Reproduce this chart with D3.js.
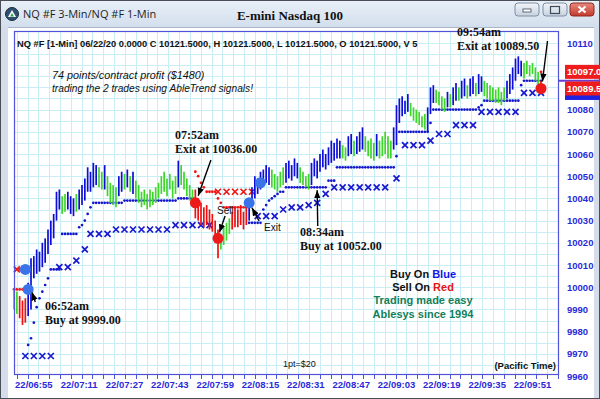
<!DOCTYPE html>
<html>
<head>
<meta charset="utf-8">
<script src="https://cdn.jsdelivr.net/npm/d3@7"></script>
<style>
  body { margin: 0; background: #fff; }
  svg { display: block; }
</style>
</head>
<body>
<div id="chart"></div>
<script>
// 1-min bars starting 06:48, one entry per bar
var barHigh = [
  9999, 9998, 9996, 9994, 9995, 10002, 10013, 10014, 10017, 10016,
  10020, 10022, 10026, 10030, 10033, 10043, 10044, 10041, 10042, 10043,
  10041, 10040, 10042, 10044, 10046, 10049, 10054, 10052, 10056, 10055,
  10054, 10052, 10055, 10050, 10047, 10046, 10045, 10050, 10052, 10051,
  10053, 10050, 10052, 10048, 10046, 10043, 10044, 10042, 10044, 10043,
  10045, 10047, 10050, 10052, 10049, 10051, 10048, 10050, 10057, 10055,
  10052, 10049, 10046, 10044, 10044, 10040, 10038, 10036, 10037, 10035,
  10033, 10030, 10026, 10024, 10027, 10029, 10031, 10034, 10036, 10035,
  10037, 10034, 10036, 10039, 10045, 10050, 10049, 10052, 10053, 10055,
  10054, 10053, 10051, 10050, 10052, 10054, 10056, 10057, 10055, 10058,
  10056, 10054, 10052, 10050, 10051, 10056, 10058, 10057, 10060, 10062,
  10060, 10063, 10066, 10065, 10067, 10066, 10064, 10063, 10068, 10069,
  10066, 10068, 10070, 10072, 10068, 10066, 10067, 10065, 10069, 10066,
  10068, 10070, 10068, 10066, 10072, 10082, 10085, 10086, 10084, 10087,
  10083, 10081, 10080, 10079, 10077, 10078, 10081, 10090, 10091, 10089,
  10088, 10086, 10085, 10088, 10087, 10090, 10092, 10090, 10093, 10094,
  10091, 10094, 10095, 10092, 10096, 10095, 10093, 10092, 10091, 10090,
  10089, 10090, 10088, 10090, 10093, 10096, 10099, 10103, 10104, 10102,
  10101, 10102, 10100, 10101, 10099, 10097, 10093
];
var barLow = [
  9990, 9988, 9986, 9983, 9984, 9987, 9990, 10004, 10006, 10007,
  10009, 10011, 10015, 10019, 10022, 10030, 10035, 10033, 10034, 10035,
  10033, 10032, 10034, 10035, 10037, 10039, 10043, 10043, 10045, 10046,
  10045, 10044, 10044, 10041, 10038, 10037, 10036, 10041, 10043, 10044,
  10045, 10043, 10042, 10040, 10038, 10036, 10037, 10035, 10036, 10037,
  10038, 10040, 10042, 10043, 10041, 10044, 10040, 10042, 10045, 10046,
  10044, 10041, 10039, 10037, 10031, 10030, 10028, 10027, 10028, 10026,
  10025, 10021, 10013, 10017, 10019, 10021, 10024, 10026, 10027, 10027,
  10028, 10026, 10028, 10030, 10036, 10040, 10042, 10044, 10046, 10047,
  10046, 10045, 10044, 10043, 10045, 10046, 10047, 10049, 10048, 10050,
  10049, 10047, 10046, 10045, 10044, 10046, 10050, 10049, 10052, 10054,
  10053, 10055, 10056, 10057, 10058, 10058, 10058, 10057, 10059, 10060,
  10059, 10060, 10061, 10062, 10061, 10059, 10058, 10057, 10059, 10058,
  10059, 10060, 10058, 10058, 10062, 10064, 10074, 10077, 10078, 10079,
  10077, 10075, 10074, 10073, 10072, 10071, 10070, 10078, 10083, 10083,
  10082, 10080, 10079, 10081, 10081, 10082, 10084, 10084, 10085, 10086,
  10085, 10086, 10087, 10086, 10087, 10088, 10086, 10085, 10084, 10084,
  10083, 10083, 10082, 10084, 10085, 10087, 10089, 10093, 10096, 10095,
  10094, 10096, 10095, 10096, 10093, 10091, 10088
];
// B = up trend (blue), G = neutral (green), R = down trend (red)
var barTrend = (
  "GGRRR" + "BBBBBBBBBBBB" + "GG" + "BBB" + "G" + "BBBBBBB" + "GG" + "B" +
  "GGGG" + "BB" + "G" + "B" + "G" + "B" + "GGGGGGGGGGGGGGG" + "B" + "GGGGG" +
  "RRRRRRRRR" + "GGGG" + "RRRRRR" + "BBBBBBBB" + "GGGGG" + "BBBBB" + "GGGG" +
  "BBBBBBBBBBB" + "GG" + "BB" + "G" + "BBB" + "GGGG" + "B" + "GGGGG" +
  "BBBBBB" + "GGGGGG" + "BBB" + "GGGG" + "B" + "G" + "BB" + "G" + "BB" + "G" +
  "BB" + "G" + "BB" + "GGGGGGGG" + "BBBBBB" + "GGGGGG" + "R"
).split("");

// stop levels: [first bar, last bar, price]
var blueDotRuns = [
  [5, 5, 9974], [6, 6, 9977], [7, 7, 9984], [8, 8, 9991], [9, 9, 9995],
  [10, 10, 9998], [11, 11, 10001], [12, 12, 10004], [13, 16, 10008],
  [17, 22, 10024], [23, 23, 10027], [24, 24, 10028], [25, 25, 10030],
  [26, 26, 10033], [27, 27, 10036], [28, 38, 10038], [39, 57, 10039],
  [58, 63, 10040], [83, 87, 10029], [88, 88, 10035], [89, 89, 10037],
  [90, 90, 10039], [91, 91, 10040], [92, 92, 10041], [93, 93, 10042],
  [94, 95, 10043], [96, 110, 10045], [111, 113, 10048], [114, 134, 10054],
  [135, 135, 10059], [136, 146, 10070], [147, 147, 10074], [148, 163, 10080],
  [164, 164, 10081], [165, 165, 10082], [166, 178, 10084], [179, 179, 10091],
  [180, 186, 10093]
];
var redDotRuns = [
  [0, 4, 9999], [2, 4, 10008], [64, 64, 10052], [65, 65, 10050], [66, 66, 10047],
  [67, 67, 10045], [68, 71, 10043], [72, 72, 10040], [73, 73, 10038],
  [74, 82, 10036], [186, 186, 10097]
];
// X markers: [bar, price]
var blueX = [
  [4, 9969], [7, 9969], [10, 9969], [13, 9969], [16, 10009], [19, 10009],
  [22, 10012], [25, 10017], [27, 10024], [30, 10024], [33, 10024],
  [36, 10026], [39, 10026], [42, 10026], [45, 10026], [48, 10026], [51, 10026],
  [54, 10026], [57, 10028], [60, 10028], [63, 10028], [66, 10028], [69, 10028],
  [86, 10032], [89, 10032], [92, 10032], [95, 10035], [98, 10036], [101, 10036],
  [104, 10037], [107, 10038], [110, 10042], [113, 10045], [116, 10045],
  [119, 10045], [122, 10045], [125, 10045], [128, 10045], [131, 10045],
  [135, 10049], [138, 10064], [141, 10064], [144, 10064], [147, 10066],
  [150, 10069], [153, 10069], [156, 10073], [159, 10073], [162, 10073],
  [165, 10079], [168, 10079], [171, 10079], [174, 10079], [177, 10079],
  [180, 10087.5], [183, 10087.5], [186, 10087.5]
];
var redX = [[1, 10008], [72, 10043], [75, 10043], [78, 10043], [81, 10043], [84, 10043]];

// signal circles
var signalBar = [4, 5, 64, 72, 83, 87, 186];
var signalPrice = [10008, 9999, 10038, 10022, 10038, 10047, 10089.5];
var signalSide = ["buy", "buy", "sell", "sell", "buy", "buy", "sell"];

// 10090 and 10100 sit under the last-value boxes
var priceTicks = [9960, 9970, 9980, 9990, 10000, 10010, 10020, 10030, 10040,
                  10050, 10060, 10070, 10080, 10110];
var timeLabels = ["06:55", "07:11", "07:27", "07:43", "07:59", "08:15",
                  "08:31", "08:47", "09:03", "09:19", "09:35", "09:51"];

// last value boxes on the price axis
var lastBoxes = [
  { v: 10087.5, fill: "#2020e0", text: "" },
  { v: 10097, fill: "#ee1c1c", text: "10097.0" },
  { v: 10089.5, fill: "#ee1c1c", text: "10089.5" }
];

(function() {
  var width = 600, height = 399;
  var plot = { left: 14, right: 558, top: 31, bottom: 374 };
  var startMin = 6 * 60 + 48;

  var svg = d3.select("#chart").append("svg")
    .attr("width", width)
    .attr("height", height)
    .style("font-family", "'Liberation Sans', Arial, sans-serif");

  var x = d3.scaleLinear().domain([0, 192]).range([plot.left, plot.right]);
  var y = d3.scaleLinear().domain([9960, 10110]).range([376, 43]);

  var colorOf = { B: "#0d0dd8", G: "#3ed62a", R: "#ee1111" };

  var defs = svg.append("defs");
  var grad = defs.append("linearGradient").attr("id", "titlebar")
    .attr("x1", 0).attr("y1", 0).attr("x2", 0).attr("y2", 1);
  grad.append("stop").attr("offset", 0).attr("stop-color", "#e9f0f8");
  grad.append("stop").attr("offset", 1).attr("stop-color", "#d3dfed");
  var btn = defs.append("linearGradient").attr("id", "btn")
    .attr("x1", 0).attr("y1", 0).attr("x2", 0).attr("y2", 1);
  btn.append("stop").attr("offset", 0).attr("stop-color", "#f2f5f9");
  btn.append("stop").attr("offset", 1).attr("stop-color", "#c7d2df");
  var btnRed = defs.append("linearGradient").attr("id", "btnred")
    .attr("x1", 0).attr("y1", 0).attr("x2", 0).attr("y2", 1);
  btnRed.append("stop").attr("offset", 0).attr("stop-color", "#e88a7f");
  btnRed.append("stop").attr("offset", 1).attr("stop-color", "#c4382c");
  defs.append("marker").attr("id", "arrow")
    .attr("viewBox", "0 0 10 8").attr("refX", 10).attr("refY", 4)
    .attr("markerWidth", 8).attr("markerHeight", 7)
    .attr("markerUnits", "userSpaceOnUse").attr("orient", "auto")
    .append("path").attr("d", "M0,0L10,4L0,8z").attr("fill", "#000");

  // window chrome
  svg.append("rect").attr("width", width).attr("height", height).attr("fill", "#ffffff");
  svg.append("rect").attr("x", 0).attr("y", 0).attr("width", width).attr("height", 27)
    .attr("fill", "url(#titlebar)");
  svg.append("rect").attr("x", 0).attr("y", 27).attr("width", 8).attr("height", height - 27)
    .attr("fill", "#d4dde9");
  svg.append("rect").attr("x", 594).attr("y", 27).attr("width", 6).attr("height", height - 27)
    .attr("fill", "#d4dde9");
  svg.append("rect").attr("x", 0).attr("y", 0).attr("width", width).attr("height", height)
    .attr("fill", "none").attr("stroke", "#4a4f57").attr("stroke-width", 2);
  svg.append("line").attr("x1", 8).attr("x2", 594).attr("y1", 27.5).attr("y2", 27.5)
    .attr("stroke", "#aab6c6");

  var icon = svg.append("g").attr("transform", "translate(12,14)");
  icon.append("circle").attr("r", 6.5).attr("fill", "#2f4f6e").attr("stroke", "#1b2c3d");
  icon.append("path").attr("d", "M0,-4L4,3L-4,3z").attr("fill", "#ffffff");
  icon.append("path").attr("d", "M0,-1L2,2.5L-2,2.5z").attr("fill", "#2ea44f");

  svg.append("text").attr("x", 23).attr("y", 18)
    .style("font-family", "'Open Sans', 'Noto Sans', sans-serif")
    .style("font-size", "11px").attr("fill", "#1e1e1e")
    .text("NQ #F 3-Min/NQ #F 1-Min");
  svg.append("text").attr("x", 290).attr("y", 20).attr("text-anchor", "middle")
    .style("font-family", "'Liberation Serif', 'Times New Roman', serif")
    .style("font-size", "13px").style("font-weight", "bold").attr("fill", "#111")
    .text("E-mini Nasdaq 100");

  [[515, "url(#btn)"], [543, "url(#btn)"], [570, "url(#btnred)"]].forEach(function(b, k) {
    svg.append("rect").attr("x", b[0]).attr("y", 3).attr("width", 24).attr("height", 13)
      .attr("rx", 3).attr("fill", b[1]).attr("stroke", k == 2 ? "#8d2a22" : "#7d8ea3");
  });
  svg.append("rect").attr("x", 523).attr("y", 9).attr("width", 8).attr("height", 3)
    .attr("fill", "#fff").attr("stroke", "#3c4a5c").attr("stroke-width", 0.8);
  svg.append("rect").attr("x", 550.5).attr("y", 6.5).attr("width", 9).attr("height", 7)
    .attr("fill", "none").attr("stroke", "#3c4a5c").attr("stroke-width", 1.2);
  svg.append("path").attr("d", "M578.5,6.5L585.5,12.5M585.5,6.5L578.5,12.5")
    .attr("stroke", "#fff").attr("stroke-width", 2.2);

  // plot background and grid
  svg.append("rect").attr("x", plot.left).attr("y", plot.top)
    .attr("width", plot.right - plot.left).attr("height", plot.bottom - plot.top)
    .attr("fill", "#ffffff");

  var grid = svg.append("g").attr("stroke", "#c9eef6").attr("stroke-width", 1);
  var gridTimes = d3.range(0.95, 192, 3.82);
  grid.selectAll(".vg").data(gridTimes).enter().append("line")
    .attr("x1", function(d) { return Math.round(x(d)) + 0.5; })
    .attr("x2", function(d) { return Math.round(x(d)) + 0.5; })
    .attr("y1", plot.top).attr("y2", plot.bottom);
  var gridPrices = d3.range(9965, 10115, 5);
  grid.selectAll(".hg").data(gridPrices).enter().append("line")
    .attr("x1", plot.left).attr("x2", plot.right)
    .attr("y1", function(d) { return Math.round(y(d)) + 0.5; })
    .attr("y2", function(d) { return Math.round(y(d)) + 0.5; });

  svg.append("text").attr("x", 17).attr("y", 47)
    .style("font-size", "9.3px").style("font-weight", "bold").attr("fill", "#111")
    .text("NQ #F [1-Min] 06/22/20  0.0000 C 10121.5000, H 10121.5000, L 10121.5000, O 10121.5000, V 5");

  // stop markers
  function expandRuns(runs) {
    var pts = [];
    runs.forEach(function(r) {
      d3.range(r[0], r[1] + 1).forEach(function(i) { pts.push([i, r[2]]); });
    });
    return pts;
  }

  svg.append("g").selectAll("circle").data(expandRuns(blueDotRuns)).enter().append("circle")
    .attr("cx", function(d) { return x(d[0]); })
    .attr("cy", function(d) { return y(d[1]); })
    .attr("r", 1.35).attr("fill", "#1515cc");
  svg.append("g").selectAll("circle").data(expandRuns(redDotRuns)).enter().append("circle")
    .attr("cx", function(d) { return x(d[0]); })
    .attr("cy", function(d) { return y(d[1]); })
    .attr("r", 1.4).attr("fill", "#ee1515");

  function drawX(data, color) {
    svg.append("g").selectAll("path").data(data).enter().append("path")
      .attr("d", function(d) {
        var cx = x(d[0]), cy = y(d[1]), s = 3;
        return "M" + (cx - s) + "," + (cy - s) + "L" + (cx + s) + "," + (cy + s) +
               "M" + (cx + s) + "," + (cy - s) + "L" + (cx - s) + "," + (cy + s);
      })
      .attr("stroke", color).attr("stroke-width", 1.7).attr("fill", "none");
  }
  drawX(blueX, "#1a1ad0");
  drawX(redX, "#ee1515");

  // price bars
  svg.append("g").selectAll("line").data(barHigh).enter().append("line")
    .attr("x1", function(d, i) { return x(i); })
    .attr("x2", function(d, i) { return x(i); })
    .attr("y1", function(d) { return y(d); })
    .attr("y2", function(d, i) { return y(barLow[i]); })
    .attr("stroke", function(d, i) { return colorOf[barTrend[i]]; })
    .attr("stroke-width", 1.7);

  // signal circles
  svg.append("g").selectAll("circle").data(signalBar).enter().append("circle")
    .attr("cx", function(d) { return x(d); })
    .attr("cy", function(d, i) { return y(signalPrice[i]); })
    .attr("r", 5.5)
    .attr("fill", function(d, i) { return signalSide[i] == "buy" ? "#3a74e8" : "#ee1a1a"; });

  // plot border
  svg.append("rect").attr("x", plot.left + 0.5).attr("y", plot.top + 0.5)
    .attr("width", plot.right - plot.left).attr("height", plot.bottom - plot.top)
    .attr("fill", "none").attr("stroke", "#5252d8").attr("stroke-width", 1.2);

  // price axis
  svg.append("g").selectAll("text").data(priceTicks).enter().append("text")
    .attr("x", 567).attr("y", function(d) { return y(d) + 3.5; })
    .style("font-size", "9.5px").style("font-weight", "bold").attr("fill", "#2a2ad8")
    .text(function(d) { return d; });

  var boxes = svg.append("g");
  boxes.append("line").attr("x1", 559).attr("x2", 600)
    .attr("y1", y(10093)).attr("y2", y(10093)).attr("stroke", "#6a3ccf").attr("stroke-width", 2);
  lastBoxes.forEach(function(b) {
    boxes.append("rect").attr("x", 565).attr("y", y(b.v) - 7).attr("width", 35).attr("height", 14)
      .attr("fill", b.fill);
    if (b.text) {
      boxes.append("text").attr("x", 567).attr("y", y(b.v) + 3.5)
        .style("font-size", "9.5px").style("font-weight", "bold").attr("fill", "#ffffff")
        .text(b.text);
    }
  });

  // time axis
  svg.append("line").attr("x1", plot.left).attr("x2", plot.right)
    .attr("y1", plot.bottom + 0.5).attr("y2", plot.bottom + 0.5)
    .attr("stroke", "#5252d8").attr("stroke-width", 1.2);
  svg.append("g").selectAll("line").data(gridTimes).enter().append("line")
    .attr("x1", function(d) { return Math.round(x(d)) + 0.5; })
    .attr("x2", function(d) { return Math.round(x(d)) + 0.5; })
    .attr("y1", plot.bottom).attr("y2", plot.bottom + 5)
    .attr("stroke", "#5252d8");
  svg.append("g").selectAll("text").data(timeLabels).enter().append("text")
    .attr("x", function(d) {
      var p = d.split(":");
      return x(+p[0] * 60 + +p[1] - startMin);
    })
    .attr("y", 388).attr("text-anchor", "middle")
    .style("font-size", "9.5px").style("font-weight", "bold").attr("fill", "#2a2ad8")
    .text(function(d) { return "22/" + d; });

  // notes
  svg.append("text").attr("x", 52).attr("y", 79)
    .style("font-size", "10.8px").style("font-style", "italic").attr("fill", "#111")
    .text("74 points/contract profit ($1480)");
  svg.append("text").attr("x", 52).attr("y", 92)
    .style("font-size", "10.2px").style("font-style", "italic").attr("fill", "#111")
    .text("trading the 2 trades using AbleTrend signals!");

  function serifNote(tx, ty, lines) {
    lines.forEach(function(t, k) {
      svg.append("text").attr("x", tx).attr("y", ty + k * 14)
        .style("font-family", "'Liberation Serif', 'Times New Roman', serif")
        .style("font-size", "12px").style("font-weight", "bold").attr("fill", "#111")
        .text(t);
    });
  }
  serifNote(45, 310, ["06:52am", "Buy at 9999.00"]);
  serifNote(175, 139, ["07:52am", "Exit at 10036.00"]);
  serifNote(300, 236, ["08:34am", "Buy at 10052.00"]);
  serifNote(457, 36, ["09:54am", "Exit at 10089.50"]);

  svg.append("text").attr("x", 217).attr("y", 214).style("font-size", "10px").attr("fill", "#111").text("Sell");
  svg.append("text").attr("x", 264).attr("y", 231).style("font-size", "10px").attr("fill", "#111").text("Exit");

  var arrows = [
    [x(7.5), 302, x(5) + 4, y(9999) + 3],
    [x(69.5), 160, x(65), y(10038) - 7],
    [x(74.5), 216, x(72.5), y(10022) - 6],
    [x(86.5), 221, x(84), y(10038) + 5],
    [x(107.2), 226, x(107), y(10045) + 3],
    [x(188.3), 41, x(186.5), y(10089.5) - 7]
  ];
  svg.append("g").selectAll("line").data(arrows).enter().append("line")
    .attr("x1", function(d) { return d[0]; }).attr("y1", function(d) { return d[1]; })
    .attr("x2", function(d) { return d[2]; }).attr("y2", function(d) { return d[3]; })
    .attr("stroke", "#000").attr("stroke-width", 1.4).attr("marker-end", "url(#arrow)");

  var legend = svg.append("g").attr("text-anchor", "middle")
    .style("font-size", "11px").style("font-weight", "bold");
  var l1 = legend.append("text").attr("x", 423).attr("y", 278);
  l1.append("tspan").attr("fill", "#111").text("Buy On ");
  l1.append("tspan").attr("fill", "#1414e6").text("Blue");
  var l2 = legend.append("text").attr("x", 423).attr("y", 291);
  l2.append("tspan").attr("fill", "#111").text("Sell On ");
  l2.append("tspan").attr("fill", "#e81414").text("Red");
  legend.append("text").attr("x", 423).attr("y", 304).attr("fill", "#13805a").text("Trading made easy");
  legend.append("text").attr("x", 423).attr("y", 318).attr("fill", "#13805a").text("Ablesys since 1994");

  svg.append("text").attr("x", 283).attr("y", 367).style("font-size", "9px").attr("fill", "#111")
    .text("1pt=$20");
  svg.append("text").attr("x", 556).attr("y", 369).attr("text-anchor", "end")
    .style("font-size", "9.5px").style("font-weight", "bold").attr("fill", "#111")
    .text("(Pacific Time)");
})();
</script>
</body>
</html>
